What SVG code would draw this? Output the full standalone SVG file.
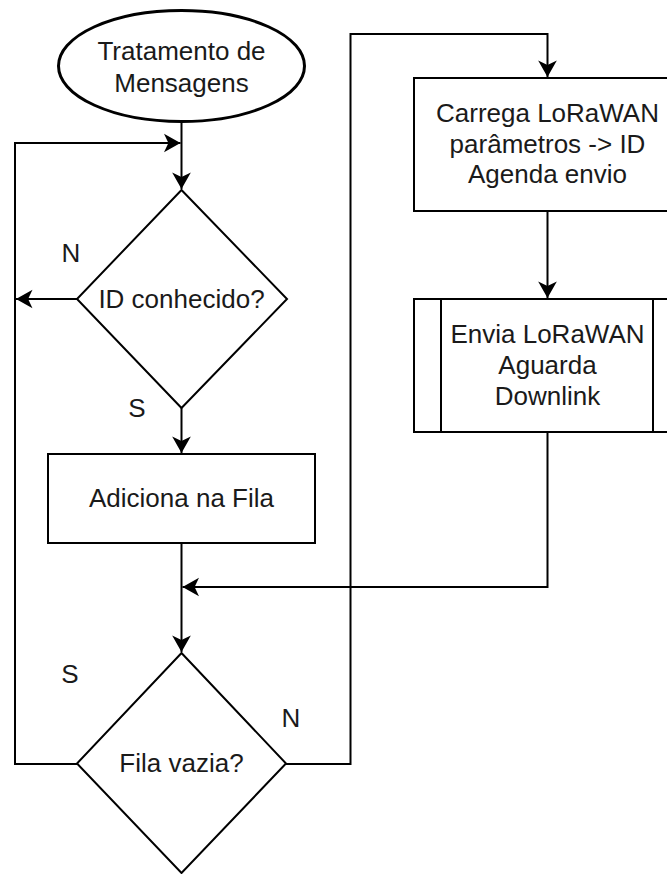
<svg xmlns="http://www.w3.org/2000/svg" width="667" height="874" viewBox="0 0 667 874">
<style>
.s{fill:#fff;stroke:#000;stroke-width:2}
.e{fill:#fff;stroke:#000;stroke-width:3}
.c{fill:none;stroke:#000;stroke-width:2}
text{font-family:"Liberation Sans",Arial,sans-serif;font-size:26px;fill:#1a1a1a;text-anchor:middle}
</style>
<defs>
<marker id="a" markerUnits="userSpaceOnUse" markerWidth="22" markerHeight="22" viewBox="-17 -10 19 20" refX="0" refY="0" orient="auto">
<path d="M0,0 L-15,-8.5 L-11,0 L-15,8.5 Z" fill="#000"/>
</marker>
</defs>
<g id="connectors">
<path class="c" d="M181.5,122 V189" marker-end="url(#a)"/>
<path class="c" d="M77,299 H16" marker-end="url(#a)"/>
<path class="c" d="M181.5,408 V453" marker-end="url(#a)"/>
<path class="c" d="M181.5,543 V652" marker-end="url(#a)"/>
<path class="c" d="M77,764 H15 V143 H180.5" marker-end="url(#a)"/>
<path class="c" d="M286,764 H350.5 V34 H547.5 V77" marker-end="url(#a)"/>
<path class="c" d="M547.5,211 V298" marker-end="url(#a)"/>
<path class="c" d="M547.5,432 V587 H182.5" marker-end="url(#a)"/>
</g>
<g id="start">
<ellipse class="e" cx="181.5" cy="66" rx="123" ry="55.5"/>
<text x="181.5" y="60">Tratamento de</text>
<text x="181.5" y="92">Mensagens</text>
</g>
<g id="dec1">
<path class="s" d="M181.5,190 L287,299 L181.5,408 L77,299 Z"/>
<text x="181.5" y="308">ID conhecido?</text>
</g>
<g id="add">
<rect class="s" x="48" y="454" width="267" height="89"/>
<text x="181.5" y="507">Adiciona na Fila</text>
</g>
<g id="dec2">
<path class="s" d="M181.5,653 L286,763.5 L181.5,873 L77,763.5 Z"/>
<text x="181.5" y="772">Fila vazia?</text>
</g>
<g id="load">
<rect class="s" x="414" y="78" width="267" height="133"/>
<text x="547.5" y="122">Carrega LoRaWAN</text>
<text x="547.5" y="152.5">parâmetros -&gt; ID</text>
<text x="547.5" y="183">Agenda envio</text>
</g>
<g id="send">
<rect class="s" x="414" y="299" width="267" height="133"/>
<line class="s" x1="441" y1="299" x2="441" y2="432"/>
<line class="s" x1="653" y1="299" x2="653" y2="432"/>
<text x="547.5" y="343">Envia LoRaWAN</text>
<text x="547.5" y="374">Aguarda</text>
<text x="547.5" y="405">Downlink</text>
</g>
<g id="labels">
<text x="71" y="262">N</text>
<text x="137" y="417">S</text>
<text x="70" y="683">S</text>
<text x="291" y="727">N</text>
</g>
</svg>
